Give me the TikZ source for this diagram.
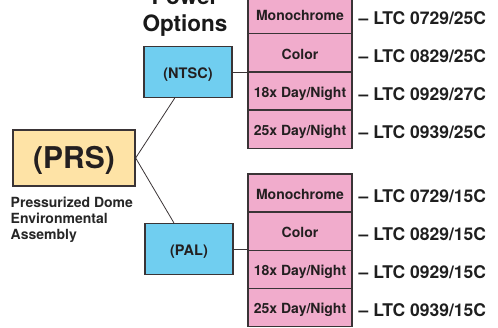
\documentclass[tikz,border=0pt]{standalone}
\usepackage{fontspec}
\setmainfont{TeX Gyre Heros}
\definecolor{domeTan}{RGB}{254,227,166}
\definecolor{videoBlue}{RGB}{112,206,240}
\definecolor{camPink}{RGB}{241,172,204}
\definecolor{edgeGray}{RGB}{58,52,54}
\begin{document}
\begin{tikzpicture}[x=1pt,y=-1pt,draw=edgeGray,
	dome/.style={rectangle, draw, line width=1.3pt, fill=domeTan, minimum width=122pt, minimum height=56pt, inner sep=0pt, font=\fontsize{30}{32}\selectfont\bfseries, text=edgeGray!60!black, text height=21.6pt, text depth=0pt},
	video/.style={rectangle, draw, line width=1.3pt, fill=videoBlue, minimum width=88pt, minimum height=51pt, inner sep=0pt, font=\fontsize{14.5}{16}\selectfont\bfseries, text=edgeGray!60!black, text height=13.4pt, text depth=0pt},
	cam/.style={rectangle, draw, line width=1.3pt, fill=camPink, minimum width=104pt, minimum height=38.2pt, inner sep=0pt, font=\fontsize{14}{16}\selectfont\bfseries, text=edgeGray!60!black, text height=12.8pt, text depth=0pt},
	code/.style={anchor=base west, inner sep=0pt, font=\fontsize{17.5}{20}\selectfont\bfseries, text=black!88},
	wire/.style={line width=0.8pt, draw=edgeGray}]
	\useasboundingbox (0,0) rectangle (498,328);
	\clip (0,0) rectangle (498,328);
	% heading and dome
	\node (title) at (185, 36.7)	[anchor=south, inner sep=0pt, align=center, font=\fontsize{22.5}{27}\selectfont\bfseries, text=black!90]	{Power\\Options};
	\node (prs) at (74, 158)	[dome]	{(PRS)};
	\node (caption) at (10.5, 197.3)	[anchor=north west, inner sep=0pt, align=left, font=\fontsize{14}{16}\selectfont\bfseries, text=black!85]	{Pressurized Dome\\Environmental\\Assembly};
	% video standards
	\node (ntsc) at (188, 72)	[video]	{(NTSC)};
	\node (pal) at (189, 249)	[video]	{(PAL)};
	% NTSC cameras
	\node (n1) at (300, 14.6)	[cam]	{Monochrome};
	\node (n2) at (300, 52.8)	[cam]	{Color};
	\node (n3) at (300, 91.0)	[cam]	{18x Day/Night};
	\node (n4) at (300, 129.2)	[cam]	{25x Day/Night};
	\node (c1) at (358.5, 24.8)	[code]	{– LTC 0729/25C};
	\node (c2) at (358.5, 62.6)	[code]	{– LTC 0829/25C};
	\node (c3) at (358.5, 100.6)	[code]	{– LTC 0929/27C};
	\node (c4) at (358.5, 138.6)	[code]	{– LTC 0939/25C};
	% PAL cameras
	\node (p1) at (300, 193.0)	[cam]	{Monochrome};
	\node (p2) at (300, 231.2)	[cam]	{Color};
	\node (p3) at (300, 269.4)	[cam]	{18x Day/Night};
	\node (p4) at (300, 307.6)	[cam]	{25x Day/Night};
	\node (d1) at (358.5, 202.8)	[code]	{– LTC 0729/15C};
	\node (d2) at (358.5, 240.8)	[code]	{– LTC 0829/15C};
	\node (d3) at (358.5, 278.8)	[code]	{– LTC 0929/15C};
	\node (d4) at (358.5, 316.8)	[code]	{– LTC 0939/15C};
	\draw [wire] (prs.east) -- (ntsc.243);
	\draw [wire] (prs.east) -- (pal.120);
	\draw [wire] (ntsc.east) -- (ntsc.east -| n3.west);
	\draw [wire] (pal.east) -- (pal.east -| p3.west);
\end{tikzpicture}
\end{document}
